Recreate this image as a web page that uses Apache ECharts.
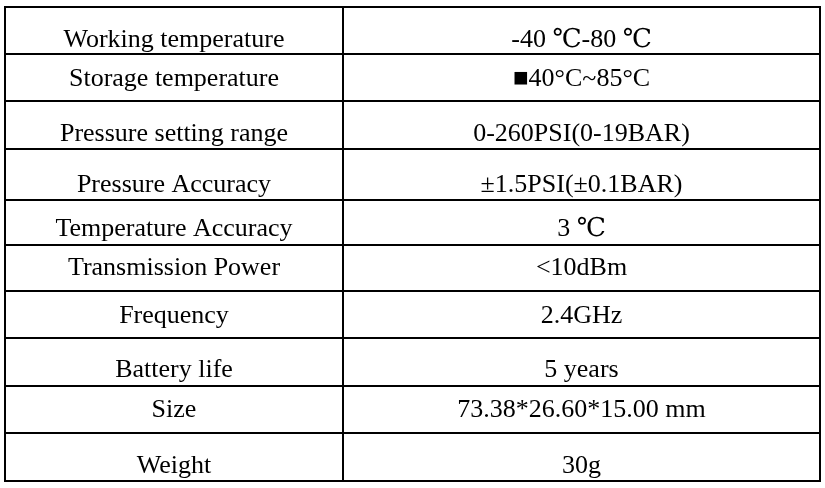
<!DOCTYPE html>
<html>
<head>
<meta charset="utf-8">
<script src="https://cdn.jsdelivr.net/npm/echarts@6/dist/echarts.min.js"></script>
<style>html,body{margin:0;padding:0;background:#fff}#main{width:825px;height:488px}</style>
</head>
<body>
<div id="main"></div>
<script>
var params = ['Working temperature', 'Storage temperature', 'Pressure setting range', 'Pressure Accuracy',
    'Temperature Accuracy', 'Transmission Power', 'Frequency', 'Battery life', 'Size', 'Weight'];
var values = ['-40 ℃-80 ℃', '■40°C~85°C', '0-260PSI(0-19BAR)', '±1.5PSI(±0.1BAR)', '3 ℃',
    '<10dBm', '2.4GHz', '5 years', '73.38*26.60*15.00 mm', '30g'];

// layout of the table (pixel units of the picture)
var rowEdges = [7, 54, 101, 149, 200, 245, 291, 338, 386, 433, 481];
var textY = [40, 79, 134, 185, 229, 268, 316, 370, 410, 466];
var colX = [5, 343, 820];

var myChart = echarts.init(document.getElementById('main'));
var option = {
    animation: false,
    grid: { left: 0, right: 0, top: 0, bottom: 0 },
    xAxis: { type: 'value', min: 0, max: 825, show: false },
    yAxis: { type: 'value', min: 0, max: 488, inverse: true, show: false },
    series: [{
        type: 'custom',
        data: params.map(function (p, i) { return [i, p, values[i]]; }),
        renderItem: function (ctx, api) {
            var i = api.value(0);
            var tl = api.coord([colX[0], rowEdges[i]]);
            var mid = api.coord([colX[1], rowEdges[i + 1]]);
            var br = api.coord([colX[2], rowEdges[i + 1]]);
            var ty = api.coord([0, textY[i]])[1];
            var font = '26px "Liberation Serif", "DejaVu Serif", serif';
            return {
                type: 'group',
                children: [
                    { type: 'rect', shape: { x: tl[0], y: tl[1], width: mid[0] - tl[0], height: br[1] - tl[1] },
                      style: { fill: 'none', stroke: '#000', lineWidth: 2 } },
                    { type: 'rect', shape: { x: mid[0], y: tl[1], width: br[0] - mid[0], height: br[1] - tl[1] },
                      style: { fill: 'none', stroke: '#000', lineWidth: 2 } },
                    { type: 'text', style: { text: params[i], x: (tl[0] + mid[0]) / 2, y: ty, font: font,
                      fill: '#000', align: 'center', verticalAlign: 'middle' } },
                    { type: 'text', style: { text: values[i], x: (mid[0] + br[0]) / 2, y: ty, font: font,
                      fill: '#000', align: 'center', verticalAlign: 'middle' } }
                ]
            };
        }
    }]
};
myChart.setOption(option);
</script>
</body>
</html>
